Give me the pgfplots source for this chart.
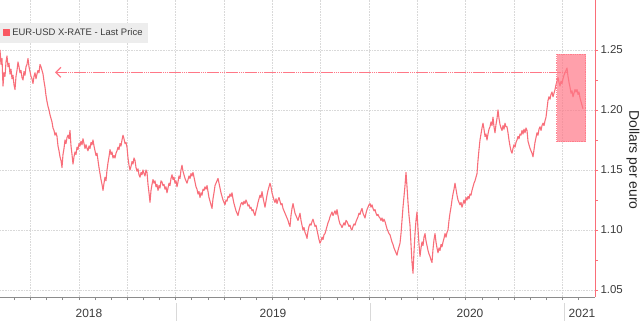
\documentclass[border=0pt]{standalone}
\usepackage{fontspec}
\setmainfont{Liberation Sans}
\usepackage{pgfplots}
\pgfplotsset{compat=1.18}
\usetikzlibrary{arrows.meta}
\definecolor{eurline}{RGB}{248,110,122}
\definecolor{axred}{RGB}{250,110,120}
\definecolor{boxpink}{RGB}{255,120,135}
\definecolor{txt}{RGB}{60,60,60}
\pgfplotstableread{
x y
0 1.250
1 1.238
2 1.243
3 1.220
4 1.231
5 1.228
6 1.240
7 1.245
8 1.236
9 1.239
10 1.230
11 1.234
12 1.226
13 1.229
14 1.221
15 1.217
16 1.228
17 1.233
18 1.240
19 1.236
20 1.231
21 1.233
22 1.227
23 1.225
24 1.232
25 1.229
26 1.236
27 1.238
28 1.243
29 1.236
30 1.232
31 1.228
32 1.226
33 1.222
34 1.228
35 1.231
36 1.226
37 1.230
38 1.233
39 1.231
40 1.238
41 1.236
42 1.233
43 1.230
44 1.224
45 1.219
46 1.212
47 1.207
48 1.203
49 1.200
50 1.196
51 1.193
52 1.190
53 1.185
54 1.183
55 1.179
56 1.181
57 1.178
58 1.170
59 1.166
60 1.161
61 1.158
62 1.152
63 1.163
64 1.168
65 1.175
66 1.172
67 1.177
68 1.179
69 1.176
70 1.183
71 1.170
72 1.163
73 1.155
74 1.161
75 1.165
76 1.163
77 1.169
78 1.167
79 1.172
80 1.170
81 1.174
82 1.171
83 1.176
84 1.172
85 1.168
86 1.171
87 1.168
88 1.166
89 1.170
90 1.168
91 1.173
92 1.171
93 1.175
94 1.170
95 1.166
96 1.162
97 1.164
98 1.158
99 1.152
100 1.147
101 1.142
102 1.138
103 1.133
104 1.139
105 1.144
106 1.141
107 1.150
108 1.156
109 1.161
110 1.167
111 1.163
112 1.165
113 1.160
114 1.162
115 1.160
116 1.164
117 1.166
118 1.169
119 1.167
120 1.172
121 1.170
122 1.175
123 1.179
124 1.176
125 1.172
126 1.173
127 1.169
128 1.160
129 1.154
130 1.150
131 1.153
132 1.157
133 1.155
134 1.160
135 1.158
136 1.152
137 1.149
138 1.151
139 1.146
140 1.144
141 1.148
142 1.146
143 1.150
144 1.147
145 1.145
146 1.150
147 1.148
148 1.138
149 1.131
150 1.123
151 1.133
152 1.138
153 1.142
154 1.139
155 1.141
156 1.136
157 1.138
158 1.133
159 1.137
160 1.135
161 1.141
162 1.140
163 1.137
164 1.138
165 1.134
166 1.136
167 1.131
168 1.135
169 1.139
170 1.137
171 1.143
172 1.146
173 1.142
174 1.144
175 1.139
176 1.141
177 1.136
178 1.140
179 1.145
180 1.143
181 1.150
182 1.154
183 1.149
184 1.146
185 1.143
186 1.141
187 1.139
188 1.142
189 1.145
190 1.143
191 1.147
192 1.145
193 1.148
194 1.144
195 1.140
196 1.136
197 1.134
198 1.130
199 1.132
200 1.127
201 1.131
202 1.129
203 1.134
204 1.133
205 1.136
206 1.134
207 1.137
208 1.132
209 1.127
210 1.124
211 1.121
212 1.118
213 1.126
214 1.131
215 1.137
216 1.139
217 1.141
218 1.143
219 1.139
220 1.135
221 1.131
222 1.128
223 1.125
224 1.123
225 1.121
226 1.125
227 1.124
228 1.128
229 1.127
230 1.130
231 1.128
232 1.131
233 1.126
234 1.122
235 1.119
236 1.116
237 1.114
238 1.112
239 1.116
240 1.119
241 1.122
242 1.123
243 1.121
244 1.124
245 1.122
246 1.125
247 1.123
248 1.120
249 1.121
250 1.118
251 1.119
252 1.116
253 1.117
254 1.114
255 1.112
256 1.116
257 1.119
258 1.123
259 1.126
260 1.129
261 1.127
262 1.132
263 1.127
264 1.123
265 1.119
266 1.124
267 1.129
268 1.133
269 1.136
270 1.139
271 1.136
272 1.131
273 1.128
274 1.125
275 1.123
276 1.126
277 1.122
278 1.125
279 1.127
280 1.124
281 1.121
282 1.122
283 1.118
284 1.116
285 1.114
286 1.112
287 1.110
288 1.108
289 1.105
290 1.103
291 1.112
292 1.118
293 1.122
294 1.118
295 1.114
296 1.112
297 1.110
298 1.108
299 1.111
300 1.114
301 1.108
302 1.104
303 1.100
304 1.102
305 1.098
306 1.096
307 1.093
308 1.099
309 1.103
310 1.105
311 1.104
312 1.107
313 1.109
314 1.106
315 1.103
316 1.104
317 1.100
318 1.096
319 1.092
320 1.089
321 1.091
322 1.094
323 1.092
324 1.096
325 1.097
326 1.100
327 1.103
328 1.106
329 1.108
330 1.111
331 1.113
332 1.115
333 1.112
334 1.114
335 1.116
336 1.113
337 1.117
338 1.112
339 1.108
340 1.105
341 1.104
342 1.102
343 1.104
344 1.106
345 1.104
346 1.108
347 1.107
348 1.105
349 1.103
350 1.104
351 1.101
352 1.100
353 1.103
354 1.105
355 1.104
356 1.107
357 1.109
358 1.111
359 1.114
360 1.113
361 1.116
362 1.118
363 1.114
364 1.112
365 1.110
366 1.114
367 1.117
368 1.119
369 1.121
370 1.122
371 1.119
372 1.121
373 1.118
374 1.116
375 1.117
376 1.114
377 1.112
378 1.113
379 1.111
380 1.110
381 1.108
382 1.110
383 1.107
384 1.109
385 1.107
386 1.104
387 1.101
388 1.099
389 1.097
390 1.096
391 1.093
392 1.090
393 1.088
394 1.085
395 1.083
396 1.081
397 1.079
398 1.083
399 1.086
400 1.089
401 1.097
402 1.108
403 1.119
404 1.128
405 1.137
406 1.148
407 1.136
408 1.123
409 1.112
410 1.104
411 1.088
412 1.073
413 1.064
414 1.082
415 1.097
416 1.108
417 1.115
418 1.101
419 1.088
420 1.078
421 1.085
422 1.090
423 1.087
424 1.094
425 1.097
426 1.091
427 1.087
428 1.083
429 1.080
430 1.078
431 1.075
432 1.073
433 1.084
434 1.092
435 1.097
436 1.090
437 1.085
438 1.081
439 1.085
440 1.083
441 1.088
442 1.086
443 1.090
444 1.093
445 1.097
446 1.094
447 1.098
448 1.100
449 1.108
450 1.114
451 1.119
452 1.125
453 1.130
454 1.134
455 1.139
456 1.134
457 1.129
458 1.125
459 1.123
460 1.121
461 1.123
462 1.119
463 1.122
464 1.125
465 1.122
466 1.127
467 1.125
468 1.128
469 1.126
470 1.130
471 1.129
472 1.133
473 1.136
474 1.139
475 1.141
476 1.144
477 1.147
478 1.158
479 1.167
480 1.175
481 1.180
482 1.185
483 1.189
484 1.184
485 1.178
486 1.180
487 1.175
488 1.180
489 1.184
490 1.186
491 1.190
492 1.187
493 1.194
494 1.186
495 1.181
496 1.188
497 1.193
498 1.200
499 1.193
500 1.188
501 1.185
502 1.183
503 1.187
504 1.184
505 1.189
506 1.186
507 1.186
508 1.181
509 1.175
510 1.170
511 1.166
512 1.164
513 1.168
514 1.171
515 1.169
516 1.173
517 1.175
518 1.178
519 1.176
520 1.180
521 1.179
522 1.183
523 1.180
524 1.184
525 1.181
526 1.185
527 1.183
528 1.174
529 1.171
530 1.168
531 1.166
532 1.164
533 1.161
534 1.167
535 1.173
536 1.177
537 1.181
538 1.179
539 1.184
540 1.186
541 1.183
542 1.187
543 1.189
544 1.187
545 1.191
546 1.194
547 1.201
548 1.208
549 1.211
550 1.209
551 1.213
552 1.215
553 1.211
554 1.214
555 1.217
556 1.221
557 1.224
558 1.227
559 1.223
560 1.220
561 1.224
562 1.222
563 1.226
564 1.229
565 1.231
566 1.233
567 1.235
568 1.228
569 1.223
570 1.219
571 1.214
572 1.216
573 1.211
574 1.214
575 1.217
576 1.215
577 1.217
578 1.213
579 1.215
580 1.210
581 1.207
582 1.204
583 1.201
}\eurusd
\begin{document}
\begin{tikzpicture}
\useasboundingbox (0,0) rectangle (640bp,324bp);
\begin{axis}[
  at={(0bp,27bp)}, anchor=south west,
  width=595bp, height=297bp, scale only axis,
  xmin=0, xmax=595, ymin=1.044167, ymax=1.291667,
  axis x line*=bottom, axis y line*=right,
  x axis line style={draw=black!45, line width=0.8bp},
  y axis line style={draw=axred, line width=0.8bp},
  xtick={30.55,78.9,127.25,175.6,224.0,272.3,320.65,369.0,417.4,465.7,514.1,562.4},
  xticklabels={},
  minor xtick={14.43,46.67,62.79,95.0,111.1,143.4,159.5,191.7,207.8,240.1,256.2,288.4,304.5,336.8,352.9,385.1,401.2,433.5,449.6,481.8,497.9,530.2,546.3,578.5},
  ytick={1.05,1.10,1.15,1.20,1.25},
  yticklabels={1.05,1.10,1.15,1.20,1.25},
  minor ytick={1.075,1.125,1.175,1.225},
  tick align=outside,
  major tick length=3bp, minor tick length=3bp,
  x tick style={draw=black!45, line width=0.6bp},
  y tick style={draw=axred, line width=0.6bp},
  xmajorgrids, ymajorgrids,
  grid style={draw=black!15, line width=0.6bp, densely dotted},
  yticklabel style={font=\fontsize{11.5}{13}\selectfont, text=txt, xshift=-1bp},
  legend style={at={(axis description cs:0,0.9226)}, anchor=north west,
    draw=none, fill=black!7, font=\fontsize{9.5}{11}\selectfont, text=txt,
    inner xsep=3bp, inner ysep=3.5bp},
  legend cell align=left,
  clip=false,
]
\addplot[eurline, line width=1.1bp, line join=round,
  legend image code/.code={\fill[eurline!80!red] (0bp,-3bp) rectangle (6bp,3bp);}]
  table[x=x,y=y] {\eurusd};
\addlegendentry{EUR-USD X-RATE - Last Price}
\draw[boxpink, fill=boxpink, fill opacity=0.7, draw opacity=0.9, densely dotted, line width=0.8bp]
  (axis cs:556.5,1.2464) rectangle (axis cs:585.7,1.1736);
\draw[boxpink, line width=1.5bp, dash pattern=on 1.5bp off 0.4bp,
  {Straight Barb[length=5bp,width=10bp,line width=1.2bp]}-]
  (axis cs:55,1.2314) -- (axis cs:566,1.2314);
\end{axis}
\foreach \xs in {176.5,370.5,564.5} \draw[black!15, line width=0.6bp] (\xs bp,3bp) -- (\xs bp,21bp);
\node[font=\fontsize{12}{14}\selectfont, text=txt] at (89bp,11bp) {2018};
\node[font=\fontsize{12}{14}\selectfont, text=txt] at (273bp,11bp) {2019};
\node[font=\fontsize{12}{14}\selectfont, text=txt] at (470bp,11bp) {2020};
\node[font=\fontsize{12}{14}\selectfont, text=txt] at (582bp,11bp) {2021};
\node[rotate=-90, font=\fontsize{14}{16}\selectfont, text=black!85] at (633bp,164bp) {Dollars per euro};
\end{tikzpicture}
\end{document}
